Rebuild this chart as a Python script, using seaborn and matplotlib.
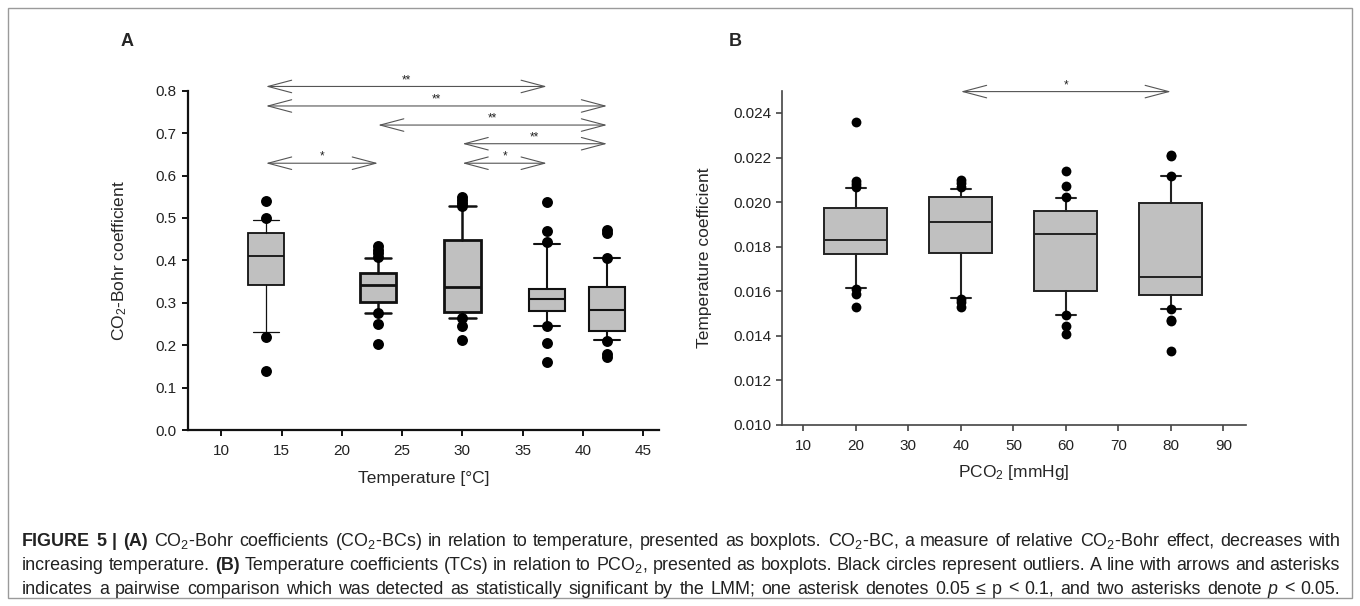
import numpy as np
import pandas as pd
import matplotlib
matplotlib.use("Agg")
import matplotlib.pyplot as plt
import seaborn as sns
from matplotlib import font_manager
from matplotlib.patches import FancyArrowPatch, Rectangle

# ---------------- Panel A data (CO2-Bohr coefficient vs temperature) ----------------
a_positions = [13.7, 23, 30, 37, 42]
a_whislo = [0.230, 0.275, 0.263, 0.246, 0.213]
a_q1 = [0.341, 0.302, 0.279, 0.280, 0.234]
a_med = [0.410, 0.343, 0.336, 0.308, 0.282]
a_q3 = [0.464, 0.371, 0.449, 0.332, 0.337]
a_whishi = [0.494, 0.405, 0.527, 0.438, 0.405]
a_outliers = [
    [0.540, 0.500, 0.219, 0.140],
    [0.433, 0.425, 0.417, 0.408, 0.275, 0.251, 0.202],
    [0.549, 0.543, 0.535, 0.527, 0.265, 0.245, 0.213],
    [0.537, 0.469, 0.443, 0.246, 0.206, 0.160],
    [0.472, 0.465, 0.405, 0.210, 0.179, 0.171],
]
a_xticks = [10, 15, 20, 25, 30, 35, 40, 45]
a_yticks = [0.0, 0.1, 0.2, 0.3, 0.4, 0.5, 0.6, 0.7, 0.8]
a_sig_from = [13.7, 13.7, 23, 30, 13.7, 30]
a_sig_to = [37, 42, 42, 42, 23, 37]
a_sig_y = [0.810, 0.764, 0.719, 0.675, 0.629, 0.629]
a_sig_label = ["**", "**", "**", "**", "*", "*"]

# ---------------- Panel B data (temperature coefficient vs PCO2) ----------------
b_positions = [20, 40, 60, 80]
b_whislo = [0.01616, 0.01569, 0.01493, 0.01521]
b_q1 = [0.01768, 0.01773, 0.01600, 0.01584]
b_med = [0.01830, 0.01913, 0.01855, 0.01663]
b_q3 = [0.01973, 0.02021, 0.01960, 0.01997]
b_whishi = [0.02065, 0.02060, 0.02020, 0.02117]
b_outliers = [
    [0.02358, 0.02095, 0.02080, 0.02068, 0.01610, 0.01589, 0.01528],
    [0.02098, 0.02085, 0.02068, 0.01566, 0.01553, 0.01528],
    [0.02139, 0.02071, 0.02022, 0.01493, 0.01443, 0.01409],
    [0.02212, 0.02205, 0.02117, 0.01521, 0.01470, 0.01465, 0.01331],
]
b_xticks = [10, 20, 30, 40, 50, 60, 70, 80, 90]
b_yticks = [0.010, 0.012, 0.014, 0.016, 0.018, 0.020, 0.022, 0.024]
b_sig_from = [40]
b_sig_to = [80]
b_sig_y = [0.02496]
b_sig_label = ["*"]

caption_lines = [
    [("FIGURE 5 | (A)", "bold", "normal"),
     ("CO$_2$-Bohr coefficients (CO$_2$-BCs) in relation to temperature, presented as boxplots. "
      "CO$_2$-BC, a measure of relative CO$_2$-Bohr effect, decreases with", "normal", "normal")],
    [("increasing temperature.", "normal", "normal"),
     ("(B)", "bold", "normal"),
     ("Temperature coefficients (TCs) in relation to PCO$_2$, presented as boxplots. Black circles "
      "represent outliers. A line with arrows and asterisks", "normal", "normal")],
    [("indicates a pairwise comparison which was detected as statistically significant by the LMM; "
      "one asterisk denotes 0.05 \u2264 p < 0.1, and two asterisks denote", "normal", "normal"),
     ("p", "normal", "italic"),
     ("< 0.05.", "normal", "normal")],
]

# ---------------- styling ----------------
sns.set_theme(style="ticks")
plt.rcParams["font.family"] = ["Liberation Sans", "DejaVu Sans"]
plt.rcParams["mathtext.fontset"] = "custom"
plt.rcParams["mathtext.rm"] = "Liberation Sans"
plt.rcParams["mathtext.it"] = "Liberation Sans:italic"
plt.rcParams["mathtext.bf"] = "Liberation Sans:bold"

W, H = 1360, 606
fig = plt.figure(figsize=(W / 100, H / 100), dpi=100)
fig.patch.set_facecolor("white")


def px_axes(left, top, right, bottom):
    return fig.add_axes([left / W, 1 - bottom / H, (right - left) / W, (bottom - top) / H])


axA = px_axes(187.5, 90.7, 659, 430)
axB = px_axes(782.3, 90.7, 1246, 425)

FILL = "#c0c0c0"


def draw_boxes(ax, pos, lo, q1, med, q3, hi, width, capw, lws, wlws, ecolor):
    stats = [dict(whislo=a, q1=b, med=c, q3=d, whishi=e, fliers=[])
             for a, b, c, d, e in zip(lo, q1, med, q3, hi)]
    art = ax.bxp(stats, positions=pos, widths=width, capwidths=capw, patch_artist=True,
                 showfliers=False, manage_ticks=False,
                 boxprops=dict(facecolor=FILL, edgecolor=ecolor),
                 medianprops=dict(color=ecolor), whiskerprops=dict(color=ecolor),
                 capprops=dict(color=ecolor))
    for i in range(len(pos)):
        art["boxes"][i].set_linewidth(lws[i])
        art["medians"][i].set_linewidth(lws[i])
        for k in (2 * i, 2 * i + 1):
            art["whiskers"][k].set_linewidth(wlws[i])
            art["caps"][k].set_linewidth(wlws[i])
        art["boxes"][i].set_zorder(2)
    return art


def draw_fliers(ax, pos, outliers, size):
    xs, ys = [], []
    for p, vals in zip(pos, outliers):
        xs += [p] * len(vals)
        ys += list(vals)
    df = pd.DataFrame({"x": xs, "y": ys})
    sns.scatterplot(data=df, x="x", y="y", ax=ax, color="black", s=size, linewidth=0,
                    zorder=5, legend=False, clip_on=False)


def draw_sig(ax, starts, ends, ys, labels, color):
    for x0, x1, y, lab in zip(starts, ends, ys, labels):
        arr = FancyArrowPatch((x0, y), (x1, y), transform=ax.transData,
                              arrowstyle="<->,head_length=1.7,head_width=0.45",
                              mutation_scale=10, color=color, lw=0.8,
                              shrinkA=0, shrinkB=0, clip_on=False, zorder=6)
        ax.add_patch(arr)
        ax.annotate(lab, xy=((x0 + x1) / 2, y), xytext=(0, 0.3), textcoords="offset points",
                    ha="center", va="bottom", fontsize=8.5, color="#222222",
                    annotation_clip=False)


# ---- Panel A ----
draw_boxes(axA, a_positions, a_whislo, a_q1, a_med, a_q3, a_whishi, 3.0, 2.2,
           [1.3, 2.0, 2.0, 1.5, 1.5], [0.9, 1.8, 1.8, 1.5, 1.5], "#111111")
draw_fliers(axA, a_positions, a_outliers, 62)
draw_sig(axA, a_sig_from, a_sig_to, a_sig_y, a_sig_label, "#555555")
axA.set_xlim(7.2, 46.3)
axA.set_ylim(0.0, 0.8)
axA.set_xticks(a_xticks)
axA.set_xticklabels([str(t) for t in a_xticks])
axA.set_yticks(a_yticks)
axA.set_yticklabels([f"{t:.1f}" for t in a_yticks])
axA.set_xlabel("Temperature [°C]", fontsize=12.5)
axA.set_ylabel("CO$_2$-Bohr coefficient", fontsize=12.5)
axA.xaxis.set_label_coords(0.5, -0.12)
axA.yaxis.set_label_coords(-0.125, 0.5)
sns.despine(ax=axA)
for s in ("left", "bottom"):
    axA.spines[s].set_linewidth(1.6)
    axA.spines[s].set_color("#111111")
axA.tick_params(axis="both", direction="out", length=4, width=1.4, color="#111111",
                labelsize=11, labelcolor="#222222")
axA.tick_params(axis="x", pad=6)
axA.tick_params(axis="y", pad=4)

# ---- Panel B ----
draw_boxes(axB, b_positions, b_whislo, b_q1, b_med, b_q3, b_whishi, 12.0, 3.8,
           [1.4, 1.4, 1.4, 1.4], [1.5, 1.5, 1.5, 1.5], "#222222")
draw_fliers(axB, b_positions, b_outliers, 50)
draw_sig(axB, b_sig_from, b_sig_to, b_sig_y, b_sig_label, "#555555")
axB.set_xlim(6.0, 94.3)
axB.set_ylim(0.010, 0.025)
axB.set_xticks(b_xticks)
axB.set_xticklabels([str(t) for t in b_xticks])
axB.set_yticks(b_yticks)
axB.set_yticklabels([f"{t:.3f}" for t in b_yticks])
axB.set_xlabel("PCO$_2$ [mmHg]", fontsize=12.5)
axB.set_ylabel("Temperature coefficient", fontsize=12.5)
axB.xaxis.set_label_coords(0.5, -0.115)
axB.yaxis.set_label_coords(-0.152, 0.5)
sns.despine(ax=axB)
for s in ("left", "bottom"):
    axB.spines[s].set_linewidth(1.2)
    axB.spines[s].set_color("#444444")
axB.tick_params(axis="both", direction="out", length=4, width=1.2, color="#444444",
                labelsize=11, labelcolor="#222222")
axB.tick_params(axis="x", pad=6)
axB.tick_params(axis="y", pad=4)

# panel letters
fig.text(127 / W, 1 - 42 / H, "A", fontsize=13, fontweight="bold", ha="center", va="center")
fig.text(735 / W, 1 - 42 / H, "B", fontsize=13, fontweight="bold", ha="center", va="center")

# outer frame
fig.add_artist(Rectangle((8 / W, 1 - 598 / H), (1352 - 8) / W, (598 - 8) / H,
                         transform=fig.transFigure, fill=False, edgecolor="#9a9a9a", lw=1.0))


# ---- justified caption ----
def has_font(name):
    try:
        font_manager.findfont(font_manager.FontProperties(family=name), fallback_to_default=False)
        return True
    except Exception:
        return False


cap_family = ["Liberation Sans Narrow", "DejaVu Sans"] if has_font("Liberation Sans Narrow") \
    else ["Liberation Sans", "DejaVu Sans"]
renderer = fig.canvas.get_renderer()
x_left, x_right = 22, 1340
line_ys = [541, 565, 589]


def words_of(line):
    out = []
    for txt, wt, st in line:
        for w in txt.split(" "):
            if w:
                out.append((w, wt, st))
    return out


def measure(words, size):
    ws = []
    for w, wt, st in words:
        t = fig.text(0, 0, w, fontsize=size, fontweight=wt, fontstyle=st, family=cap_family)
        ws.append(t.get_window_extent(renderer=renderer).width)
        t.remove()
    return ws


base = 10.0
natural = []
for line in caption_lines:
    wl = words_of(line)
    ws = measure(wl, base)
    natural.append(sum(ws) + (len(wl) - 1) * 0.26 * base * 100 / 72)
cap_size = min(13.0, base * (x_right - x_left) / max(natural) * 0.995)

for line, y in zip(caption_lines, line_ys):
    wl = words_of(line)
    ws = measure(wl, cap_size)
    gap = (x_right - x_left - sum(ws)) / (len(wl) - 1)
    x = x_left
    for (w, wt, st), wd in zip(wl, ws):
        fig.text(x / W, 1 - y / H, w, fontsize=cap_size, fontweight=wt, fontstyle=st,
                 family=cap_family, va="center", ha="left", color="#222222")
        x += wd + gap

fig.savefig("out.png", dpi=100)
